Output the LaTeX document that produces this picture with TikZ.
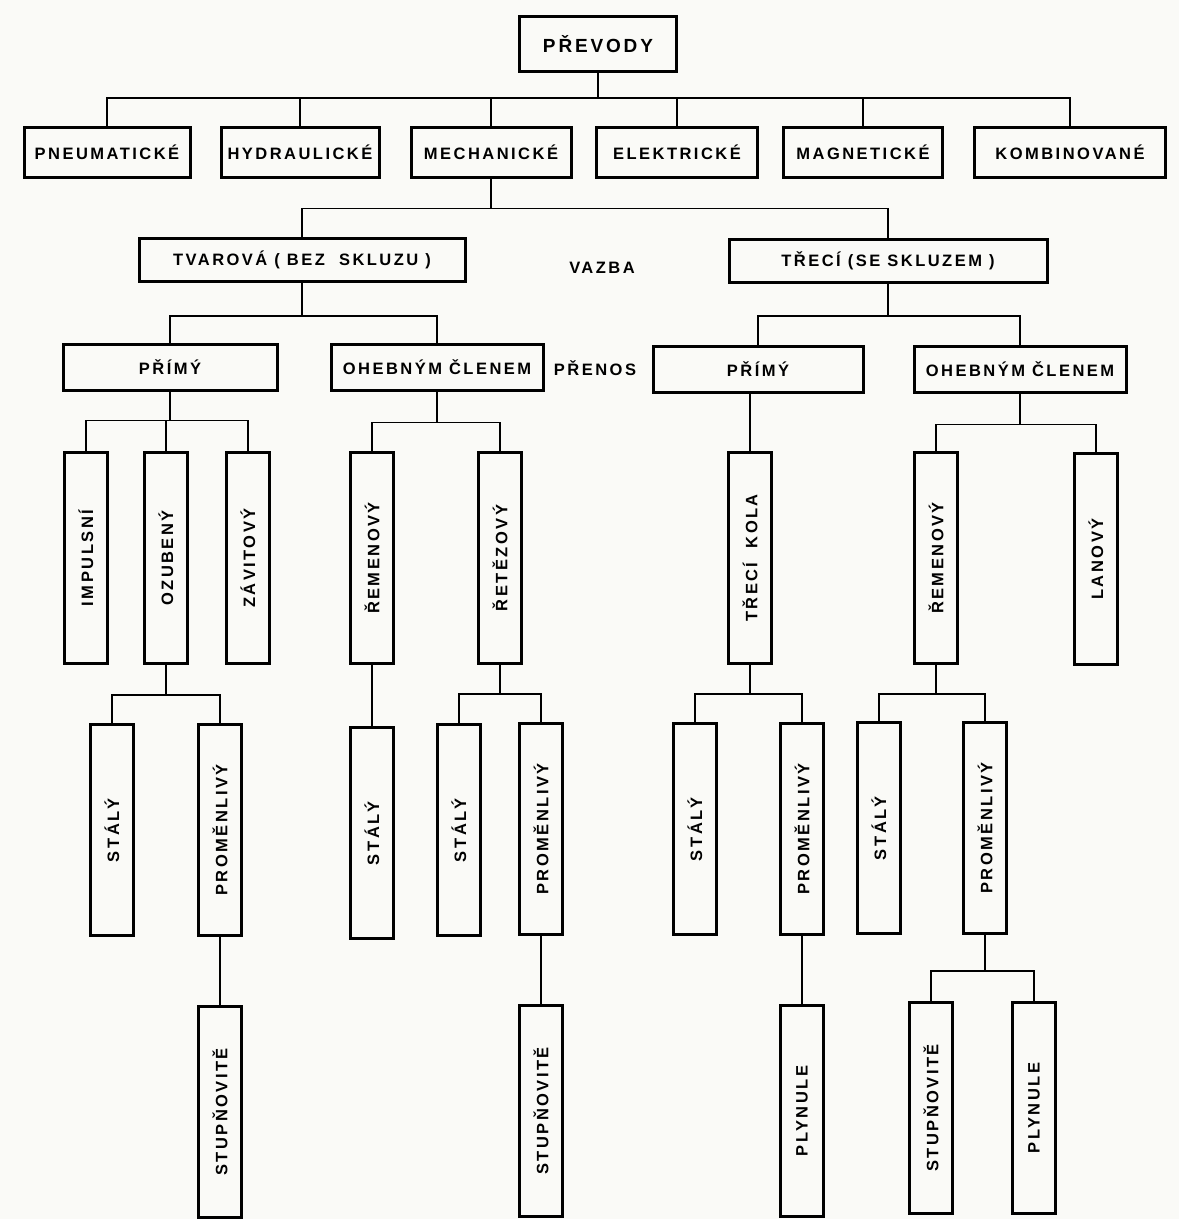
\documentclass[tikz,border=0pt]{standalone}
\usepackage{fontspec}
\newfontfamily\techfont[LetterSpace=15, UprightFont=* Bold]{Liberation Sans}
\usepackage{tikz}
\usetikzlibrary{positioning}
\definecolor{paper}{RGB}{250,250,247}
\newcommand\vlabel[1]{\rotatebox{90}{#1}}

\begin{document}
\begin{tikzpicture}[
  x=1pt, y=-1pt,
  node distance=68pt,
  box/.style={draw=black, line width=3pt, inner sep=0pt, align=center,
              font=\techfont\fontsize{16.5}{19}\selectfont, minimum height=50pt},
  tall/.style={box, minimum width=43pt, minimum height=211pt},
  lbl/.style={font=\techfont\fontsize{16.5}{19}\selectfont},
  link/.style={line width=1.6pt}
]
\fill[paper] (0,0) rectangle (1179,1219);
\useasboundingbox (0,0) rectangle (1179,1219);

% kinds of drives
\node[box, minimum width=157pt, minimum height=55pt, font=\techfont\fontsize{19}{22}\selectfont] (prevody) at (598,44) {PŘEVODY};
\node[box, minimum width=166pt] (pneu) at (107,152) {PNEUMATICKÉ};
\node[box, minimum width=158pt] (hydr) at (300,152) {HYDRAULICKÉ};
\node[box, minimum width=160pt] (mech) at (491,152) {MECHANICKÉ};
\node[box, minimum width=161pt] (elek) at (677,152) {ELEKTRICKÉ};
\node[box, minimum width=159pt] (magn) at (863,152) {MAGNETICKÉ};
\node[box, minimum width=191pt] (komb) at (1070,152) {KOMBINOVANÉ};

% coupling
\node[box, minimum width=326pt, minimum height=43pt] (tvar) at (302,260) {TVAROVÁ ( BEZ\ \ SKLUZU )};
\node[box, minimum width=318pt, minimum height=43pt] (treci) at (888,261) {TŘECÍ (SE SKLUZEM )};
\node[lbl] (vazba) at (602,268) {VAZBA};

% transfer
\node[box, minimum width=214pt, minimum height=46pt] (primA) at (170,367) {PŘÍMÝ};
\node[box, minimum width=212pt, minimum height=46pt] (ohebA) at (437,367) {OHEBNÝM ČLENEM};
\node[box, minimum width=210pt, minimum height=46pt] (primB) at (758,369) {PŘÍMÝ};
\node[box, minimum width=212pt, minimum height=46pt] (ohebB) at (1020,369) {OHEBNÝM ČLENEM};
\node[lbl] (prenos) at (595,368) {PŘENOS};

% kinds of transmission
\node[tall] (impul) at (86,558) {\vlabel{IMPULSNÍ}};
\node[tall] (ozub) at (166,558) {\vlabel{OZUBENÝ}};
\node[tall] (zavit) at (248,558) {\vlabel{ZÁVITOVÝ}};
\node[tall] (remA) at (372,558) {\vlabel{ŘEMENOVÝ}};
\node[tall] (retez) at (500,558) {\vlabel{ŘETĚZOVÝ}};
\node[tall] (trkola) at (750,558) {\vlabel{TŘECÍ\ \ KOLA}};
\node[tall] (remB) at (936,558) {\vlabel{ŘEMENOVÝ}};
\node[tall] (lanovy) at (1096,559) {\vlabel{LANOVÝ}};

% ratio
\node[tall] (stal1) at (112,830) {\vlabel{STÁLÝ}};
\node[tall] (prom1) at (220,830) {\vlabel{PROMĚNLIVÝ}};
\node[tall, below=61pt of remA] (stal2) {\vlabel{STÁLÝ}};
\node[tall] (stal3) at (459,830) {\vlabel{STÁLÝ}};
\node[tall] (prom2) at (541,829) {\vlabel{PROMĚNLIVÝ}};
\node[tall] (stal4) at (695,829) {\vlabel{STÁLÝ}};
\node[tall] (prom3) at (802,829) {\vlabel{PROMĚNLIVÝ}};
\node[tall] (stal5) at (879,828) {\vlabel{STÁLÝ}};
\node[tall] (prom4) at (985,828) {\vlabel{PROMĚNLIVÝ}};

% change of ratio
\node[tall, below=of prom1] (stup1) {\vlabel{STUPŇOVITĚ}};
\node[tall, below=of prom2] (stup2) {\vlabel{STUPŇOVITĚ}};
\node[tall, below=of prom3] (plyn1) {\vlabel{PLYNULE}};
\node[tall] (stup3) at (931,1108) {\vlabel{STUPŇOVITĚ}};
\node[tall] (plyn2) at (1034,1108) {\vlabel{PLYNULE}};

\foreach \n in {pneu,hydr,mech,elek,magn,komb}
  \draw[link] (prevody.south) -- ++(0,25) -| (\n.north);
\foreach \n in {tvar,treci}
  \draw[link] (mech.south) -- ++(0,30) -| (\n.north);
\foreach \n in {primA,ohebA}
  \draw[link] (tvar.south) -- ++(0,33) -| (\n.north);
\foreach \n in {primB,ohebB}
  \draw[link] (treci.south) -- ++(0,32) -| (\n.north);
\foreach \n in {impul,ozub,zavit}
  \draw[link] (primA.south) -- ++(0,29) -| (\n.north);
\foreach \n in {remA,retez}
  \draw[link] (ohebA.south) -- ++(0,31) -| (\n.north);
\draw[link] (trkola.north) -- (trkola.north |- primB.south);
\foreach \n in {remB,lanovy}
  \draw[link] (ohebB.south) -- ++(0,31) -| (\n.north);
\foreach \n in {stal1,prom1}
  \draw[link] (ozub.south) -- ++(0,30) -| (\n.north);
\draw[link] (stal2.north) -- (remA.south);
\foreach \n in {stal3,prom2}
  \draw[link] (retez.south) -- ++(0,29) -| (\n.north);
\foreach \n in {stal4,prom3}
  \draw[link] (trkola.south) -- ++(0,29) -| (\n.north);
\foreach \n in {stal5,prom4}
  \draw[link] (remB.south) -- ++(0,29) -| (\n.north);
\draw[link] (stup1.north) -- (prom1.south);
\draw[link] (stup2.north) -- (prom2.south);
\draw[link] (plyn1.north) -- (prom3.south);
\foreach \n in {stup3,plyn2}
  \draw[link] (prom4.south) -- ++(0,36) -| (\n.north);
\end{tikzpicture}
\end{document}
